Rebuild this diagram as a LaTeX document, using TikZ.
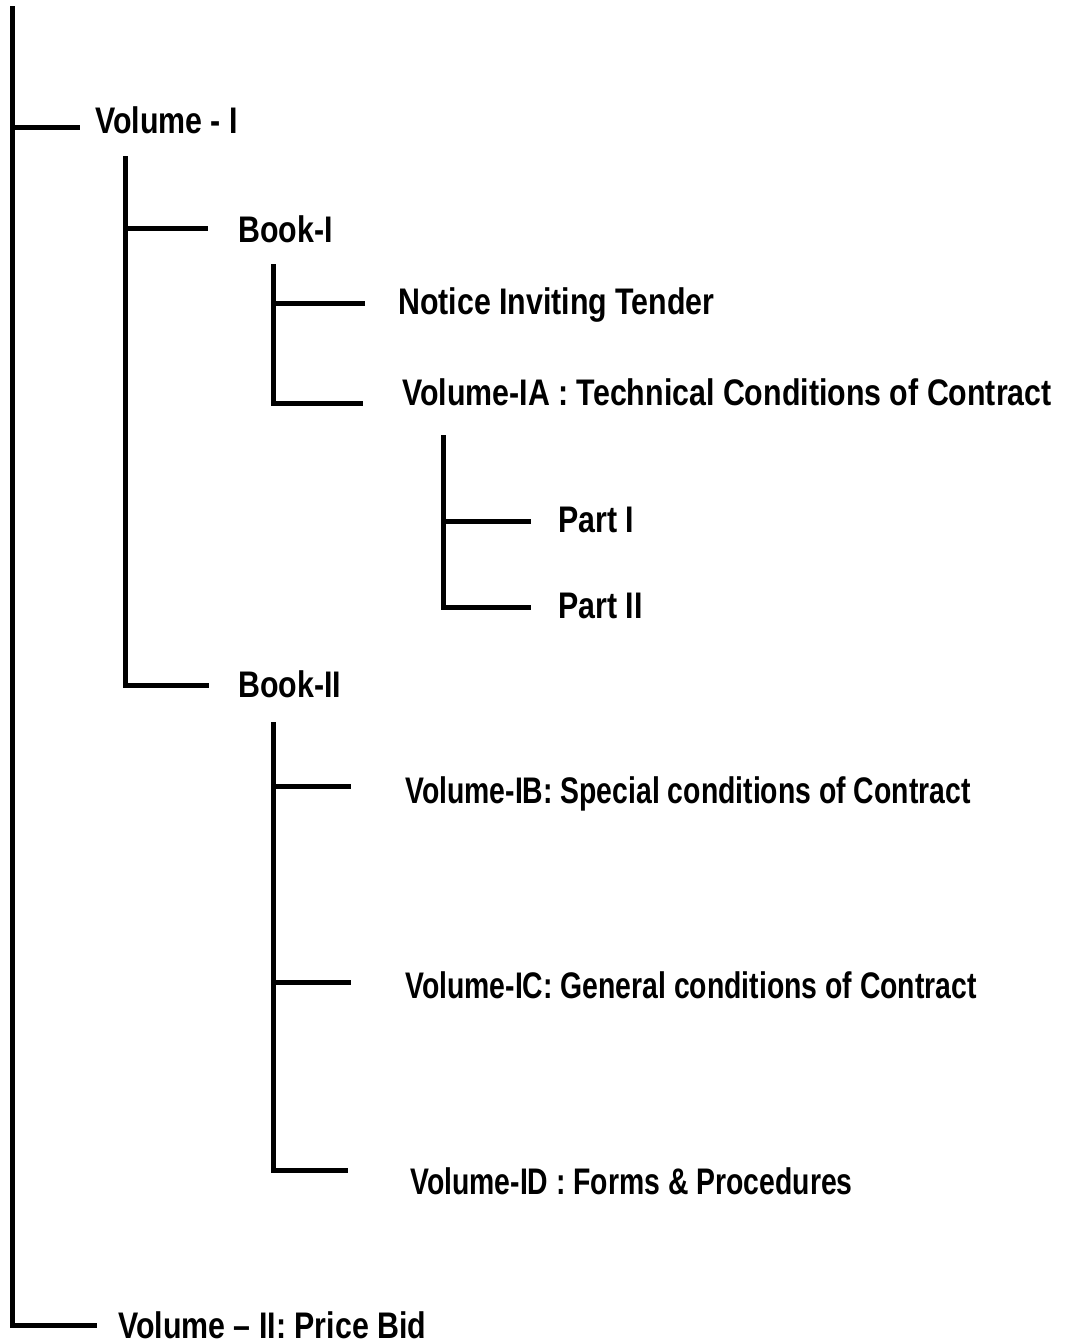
\documentclass[tikz,border=0pt]{standalone}
\usepackage{fontspec}
\setmainfont{Liberation Sans}[FakeStretch=0.82]
\newcommand{\narrowtext}[1]{\scalebox{0.935}[1]{#1}}
\begin{document}
\begin{tikzpicture}[x=1pt,y=-1pt,
  branch/.style={line width=5pt,line join=miter,line cap=butt},
  lbl/.style={anchor=base west,inner sep=0pt,font=\fontsize{37}{44}\selectfont\bfseries}]
\useasboundingbox (0,0) rectangle (1069,1344);
% labels
\node[lbl] (vol1) at (95,133) {Volume - I};
\node[lbl] (book1) at (238,242) {Book-I};
\node[lbl] (nit) at (398,314) {Notice Inviting Tender};
\node[lbl] (via) at (402,405) {Volume-IA : Technical Conditions of Contract};
\node[lbl] (p1) at (558,532) {Part I};
\node[lbl] (p2) at (558,618) {Part II};
\node[lbl] (book2) at (238,697) {Book-II};
\node[lbl] (vib) at (405,803) {\narrowtext{Volume-IB: Special conditions of Contract}};
\node[lbl] (vic) at (405,998) {\narrowtext{Volume-IC: General conditions of Contract}};
\node[lbl] (vid) at (410,1194) {\narrowtext{Volume-ID : Forms \& Procedures}};
\node[lbl] (vol2) at (118,1338) {Volume -- II: Price Bid};
% coordinates
\coordinate (m0) at (12.5,6);
\coordinate (e-vol1) at (80,127);
\coordinate (e-vol2) at (97,1325);
\coordinate (a0) at (125,156);
\coordinate (e-book1) at (208,228);
\coordinate (e-book2) at (209,685);
\coordinate (b0) at (273,264);
\coordinate (e-nit) at (365,303);
\coordinate (e-via) at (363,403);
\coordinate (c0) at (443,435);
\coordinate (e-p1) at (531,521);
\coordinate (e-p2) at (531,607);
\coordinate (d0) at (273,722);
\coordinate (e-vib) at (351,786);
\coordinate (e-vic) at (351,982);
\coordinate (e-vid) at (348,1170);
% connectors
\draw[branch] (m0) |- (e-vol2);
\draw[branch] (m0 |- e-vol1) -- (e-vol1);
\draw[branch] (a0) |- (e-book2);
\draw[branch] (a0 |- e-book1) -- (e-book1);
\draw[branch] (b0) |- (e-via);
\draw[branch] (b0 |- e-nit) -- (e-nit);
\draw[branch] (c0) |- (e-p2);
\draw[branch] (c0 |- e-p1) -- (e-p1);
\draw[branch] (d0) |- (e-vid);
\draw[branch] (d0 |- e-vib) -- (e-vib);
\draw[branch] (d0 |- e-vic) -- (e-vic);
\end{tikzpicture}
\end{document}
